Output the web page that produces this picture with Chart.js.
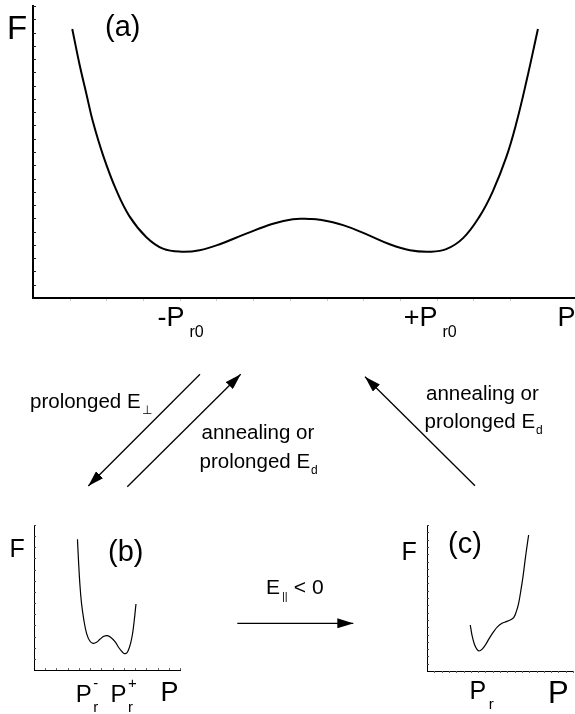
<!DOCTYPE html>
<html>
<head>
<meta charset="utf-8">
<script src="https://cdn.jsdelivr.net/npm/chart.js@4.4.1/dist/chart.umd.min.js"></script>
<style>
html, body { margin: 0; padding: 0; background: #fff; overflow: hidden; }
#wrap { position: relative; width: 575px; height: 714px; overflow: hidden; background: #fff;
  font-family: 'Liberation Sans', Arial, Helvetica, sans-serif; color: #000; }
#wrap canvas { position: absolute; }
.lab { position: absolute; white-space: nowrap; line-height: 1; }
.stack { display: inline-block; position: relative; height: 0; vertical-align: baseline; }
.stack span { position: absolute; left: 0; line-height: 1; }
#arrows { position: absolute; left: 0; top: 0; }
</style>
</head>
<body>
<div id="wrap">
  <canvas id="ca" width="575" height="310" style="left:0;top:0"></canvas>
  <canvas id="cb" width="200" height="214" style="left:0;top:500px"></canvas>
  <canvas id="cc" width="175" height="214" style="left:400px;top:500px"></canvas>
  <svg id="arrows" width="575" height="714">
    <defs>
      <marker id="hd" viewBox="0 0 16 10" refX="16" refY="5" markerWidth="16" markerHeight="10"
              orient="auto" markerUnits="userSpaceOnUse">
        <path d="M0,0 L16,5 L0,10 z" fill="#000"/>
      </marker>
    </defs>
  </svg>
</div>
<script>
// panel (a): double well
var aP = [1.07, 1.27, 1.46, 1.63, 1.91, 2.27, 2.63, 3.09, 3.54, 4.04, 4.54, 5.09, 5.81, 6.54, 7.08,
          7.54, 7.81, 8.45, 9.08, 9.72, 10.27, 10.81, 11.26, 11.72, 12.17, 12.53, 12.90, 13.17, 13.44, 13.76];
var aF = [20.27, 17.58, 15.32, 13.31, 10.75, 8.12, 6.15, 4.58, 3.72, 3.49, 3.60, 4.05, 4.85, 5.60, 5.94,
          5.95, 5.90, 5.49, 4.81, 4.05, 3.60, 3.49, 3.68, 4.51, 6.15, 8.04, 10.63, 13.16, 16.25, 20.27];
var aTickVals = [4.02, 10.82];
var aTickLabels = [{main: '-P', sub: 'r0'}, {main: '+P', sub: 'r0'}];

// panel (b): asymmetric double well
var bP = [3.87, 3.96, 4.08, 4.23, 4.44, 4.68, 4.97, 5.27, 5.57, 5.87, 6.22, 6.52, 6.82, 7.21, 7.59,
          7.89, 8.10, 8.34, 8.60, 8.78, 8.93, 9.08];
var bF = [11.72, 9.87, 7.77, 5.98, 4.48, 3.29, 2.60, 2.39, 2.48, 2.75, 3.02, 3.08, 2.93, 2.54, 1.95,
          1.59, 1.46, 1.64, 2.39, 3.29, 4.48, 5.92];
var bTickVals = [4.72, 7.99];
var bTickLabels = [{main: 'P', sub: 'r', sup: '-'}, {main: 'P', sub: 'r', sup: '+'}];

// panel (c): single well with shoulder
var cP = [5.93, 6.16, 6.48, 6.85, 7.16, 7.53, 7.99, 8.53, 9.13, 9.68, 10.27, 10.86, 11.41, 11.87,
          12.23, 12.55, 12.87, 13.15, 13.47, 13.69, 13.92];
var cF = [6.30, 4.93, 3.70, 2.97, 2.74, 2.97, 3.56, 4.47, 5.39, 6.07, 6.53, 6.76, 6.99, 7.31,
          8.13, 9.27, 11.10, 12.92, 15.43, 17.03, 18.63];
var cTickVals = [7.49];
var cTickLabels = [{main: 'P', sub: 'r'}];

var wrap = document.getElementById('wrap');

// small tick marks along the axes, taken from the scale ticks
var minorTicks = {
  id: 'minorTicks',
  afterDraw: function(chart, args, opts) {
    var ctx = chart.ctx, a = chart.chartArea;
    var sx = chart.scales.x, sy = chart.scales.y;
    ctx.save();
    ctx.lineWidth = 1;
    ctx.strokeStyle = opts.xColor;
    ctx.beginPath();
    sx.ticks.forEach(function(t) {
      if (!Number.isInteger(t.value) || t.value <= sx.min) return;
      var px = Math.round(sx.getPixelForValue(t.value)) + 0.5;
      ctx.moveTo(px, a.bottom + opts.xFrom);
      ctx.lineTo(px, a.bottom + opts.xFrom + opts.xLen);
    });
    ctx.stroke();
    ctx.strokeStyle = opts.yColor;
    ctx.beginPath();
    sy.ticks.forEach(function(t) {
      if (!Number.isInteger(t.value) || t.value <= sy.min) return;
      var py = Math.round(sy.getPixelForValue(t.value)) + 0.5;
      ctx.moveTo(a.left, py);
      ctx.lineTo(a.left + opts.yLen, py);
    });
    ctx.stroke();
    ctx.restore();
  }
};

function curveChart(id, xs, ys, xMax, yMax, pad, lw, axisW, tickOpts) {
  var pts = xs.map(function(x, i) { return {x: x, y: ys[i]}; });
  return new Chart(document.getElementById(id), {
    type: 'line',
    data: {
      datasets: [{
        data: pts,
        borderColor: '#000',
        borderWidth: lw,
        pointRadius: 0,
        fill: false,
        tension: 0.4
      }]
    },
    options: {
      responsive: false,
      animation: false,
      events: [],
      layout: {padding: pad},
      plugins: {legend: {display: false}, tooltip: {enabled: false}, minorTicks: tickOpts},
      scales: {
        x: {type: 'linear', min: 0, max: xMax,
            ticks: {display: false, stepSize: 1},
            grid: {display: false, drawTicks: false},
            border: {display: true, color: '#000', width: axisW}},
        y: {type: 'linear', min: 0, max: yMax,
            ticks: {display: false, stepSize: 1},
            grid: {display: false, drawTicks: false},
            border: {display: true, color: '#000', width: axisW}}
      }
    },
    plugins: [minorTicks]
  });
}

var chartA = curveChart('ca', aP, aF, 14.77, 22, {left: 33, top: 6, right: 0, bottom: 12}, 2, 2,
  {xColor: '#c8c8c8', yColor: '#222', xFrom: 1, xLen: 2, yLen: 3});
var chartB = curveChart('cb', bP, bF, 13, 13, {left: 34, top: 25, right: 20, bottom: 44}, 1.2, 1,
  {xColor: '#666', yColor: '#444', xFrom: 0, xLen: -2, yLen: 2});
var chartC = curveChart('cc', cP, cF, 20, 20, {left: 27, top: 25, right: 2, bottom: 43}, 1.2, 1,
  {xColor: '#666', yColor: '#444', xFrom: 0, xLen: 2, yLen: 2});

// text helpers (x = left edge or centre, base = baseline y)
function put(x, base, size, anchor) {
  var d = document.createElement('div');
  d.className = 'lab';
  d.style.fontSize = size + 'px';
  d.style.left = x + 'px';
  d.style.top = (base - 0.847 * size) + 'px';
  if (anchor === 'center') d.style.transform = 'translateX(-50%)';
  wrap.appendChild(d);
  return d;
}

function fill(d, lab, s) {
  d.appendChild(document.createTextNode(lab.main));
  if (lab.sub || lab.sup) {
    var st = document.createElement('span');
    st.className = 'stack';
    st.style.marginLeft = s.gap + 'px';
    d.appendChild(st);
    var w = 0;
    [[lab.sub, -s.drop], [lab.sup, s.raise]].forEach(function(p) {
      if (!p[0]) return;
      var e = document.createElement('span');
      e.textContent = p[0];
      e.style.fontSize = s.size + 'px';
      e.style.bottom = (p[1] - 0.153 * s.size) + 'px';
      st.appendChild(e);
      w = Math.max(w, e.offsetWidth);
    });
    st.style.width = w + 'px';
  }
  if (lab.tail) d.appendChild(document.createTextNode(lab.tail));
  return d;
}

function tickLabels(chart, offX, vals, labs, base, size, s) {
  vals.forEach(function(v, i) {
    var cx = offX + chart.scales.x.getPixelForValue(v);
    fill(put(cx, base, size, 'center'), labs[i], s);
  });
}

// panel (a)
fill(put(7, 38.5, 33), {main: 'F'});
fill(put(105, 36.5, 29), {main: '(a)'});
fill(put(557.5, 327, 27), {main: 'P'});
tickLabels(chartA, 0, aTickVals, aTickLabels, 327, 27, {size: 16, drop: 11.3, raise: 0, gap: 5});

// panel (b)
fill(put(9.5, 557, 25), {main: 'F'});
fill(put(108, 561.5, 29), {main: '(b)'});
fill(put(160.5, 702, 27), {main: 'P'});
tickLabels(chartB, 0, bTickVals, bTickLabels, 702, 24, {size: 15, drop: 10.3, raise: 14, gap: 1.5});

// panel (c)
fill(put(401.5, 560.5, 25), {main: 'F'});
fill(put(448, 553.8, 29), {main: '(c)'});
fill(put(548, 703.5, 31), {main: 'P'});
tickLabels(chartC, 400, cTickVals, cTickLabels, 699, 25, {size: 15, drop: 10, raise: 0, gap: 2.5});

// transition arrows and their captions
var arrows = [[200, 374.3, 88.3, 486], [127.3, 486.7, 240.7, 374.3], [475, 485.7, 365, 376.7], [237.3, 623.3, 353.3, 623.3]];
var svg = document.getElementById('arrows');
arrows.forEach(function(a) {
  var l = document.createElementNS('http://www.w3.org/2000/svg', 'line');
  l.setAttribute('x1', a[0]); l.setAttribute('y1', a[1]);
  l.setAttribute('x2', a[2]); l.setAttribute('y2', a[3]);
  l.setAttribute('stroke', '#000'); l.setAttribute('stroke-width', '1.3');
  l.setAttribute('marker-end', 'url(#hd)');
  svg.appendChild(l);
});

var capSub = {size: 12, drop: 6.7, raise: 0, gap: 1};
fill(put(30, 408.3, 20.5), {main: 'prolonged E', sub: '\u22A5'}, capSub);
fill(put(201.5, 439.3, 20.5), {main: 'annealing or'});
fill(put(199.5, 468.3, 20.5), {main: 'prolonged E', sub: 'd'}, capSub);
fill(put(426, 400, 20.5), {main: 'annealing or'});
fill(put(424.5, 428.3, 20.5), {main: 'prolonged E', sub: 'd'}, capSub);
fill(put(266, 593.5, 21), {main: 'E', sub: '||', tail: ' < 0'}, {size: 11, drop: 6.5, raise: 0, gap: 2});
</script>
</body>
</html>
